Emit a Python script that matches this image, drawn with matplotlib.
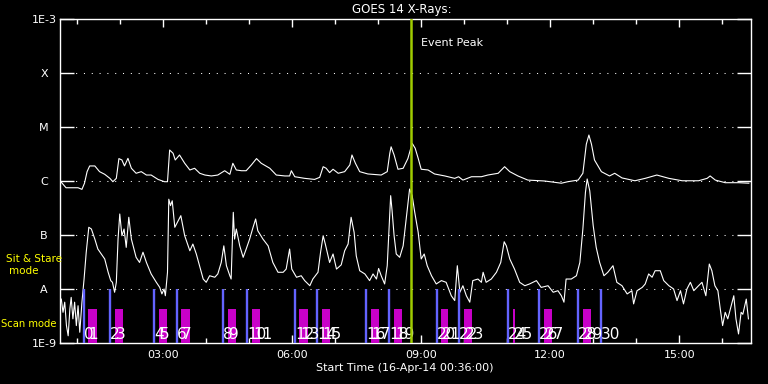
import matplotlib
matplotlib.use('Agg')
import matplotlib.pyplot as plt
from matplotlib.ticker import FixedLocator, NullLocator

# GOES 14 X-ray flux, 16-Apr-14; time in hours UT
long_t = [0.62, 0.74, 0.90, 1.02, 1.11, 1.17, 1.23, 1.29, 1.41, 1.52,
          1.64, 1.76, 1.83, 1.91, 1.97, 2.04, 2.10, 2.18, 2.26, 2.37,
          2.49, 2.61, 2.72, 2.88, 3.03, 3.10, 3.15, 3.23, 3.28, 3.38,
          3.50, 3.62, 3.73, 3.85, 3.97, 4.12, 4.27, 4.43, 4.55, 4.62,
          4.70, 4.82, 4.93, 5.05, 5.17, 5.28, 5.48, 5.63, 5.83, 5.94,
          5.98, 6.06, 6.29, 6.52, 6.64, 6.72, 6.79, 6.87, 6.95, 7.07,
          7.22, 7.34, 7.39, 7.47, 7.57, 7.76, 8.07, 8.21, 8.27, 8.30,
          8.37, 8.46, 8.58, 8.69, 8.79, 8.86, 8.93, 9.00, 9.16, 9.31,
          9.55, 9.78, 9.87, 9.97, 10.17, 10.40, 10.55, 10.79, 10.94, 11.06,
          11.25, 11.48, 11.87, 12.26, 12.41, 12.65, 12.76, 12.84, 12.90, 12.96,
          13.03, 13.19, 13.38, 13.50, 13.67, 13.97, 14.21, 14.48, 14.76, 15.07,
          15.45, 15.65, 15.72, 15.84, 16.07, 16.38, 16.62]
long_flux = [9.7e-7, 7.5e-7, 7.5e-7, 7.5e-7, 7.0e-7, 9.1e-7, 1.49e-6, 1.9e-6, 1.9e-6, 1.49e-6,
             1.33e-6, 1.12e-6, 9.7e-7, 1.12e-6, 2.6e-6, 2.45e-6, 1.9e-6, 2.63e-6, 1.72e-6, 1.39e-6,
             1.49e-6, 1.29e-6, 1.29e-6, 1.07e-6, 9.7e-7, 9.7e-7, 3.75e-6, 3.26e-6, 2.45e-6, 3.03e-6,
             2.13e-6, 1.6e-6, 1.72e-6, 1.39e-6, 1.29e-6, 1.24e-6, 1.29e-6, 1.55e-6, 1.33e-6, 2.13e-6,
             1.6e-6, 1.55e-6, 1.55e-6, 1.98e-6, 2.6e-6, 2.13e-6, 1.72e-6, 1.29e-6, 1.24e-6, 1.24e-6,
             1.55e-6, 1.2e-6, 1.12e-6, 1.07e-6, 1.17e-6, 1.84e-6, 1.72e-6, 1.43e-6, 1.65e-6, 1.39e-6,
             1.49e-6, 1.98e-6, 3.03e-6, 2.13e-6, 1.49e-6, 1.35e-6, 1.29e-6, 1.49e-6, 3.26e-6, 4.3e-6,
             3.03e-6, 1.65e-6, 1.72e-6, 2.6e-6, 4.99e-6, 4.04e-6, 2.63e-6, 1.65e-6, 1.6e-6, 1.35e-6,
             1.24e-6, 1.12e-6, 1.2e-6, 1.04e-6, 1.2e-6, 1.2e-6, 1.29e-6, 1.39e-6, 1.84e-6, 1.49e-6,
             1.24e-6, 1.04e-6, 1.0e-6, 9.1e-7, 9.7e-7, 1.04e-6, 1.39e-6, 4.8e-6, 7.1e-6, 4.8e-6,
             2.45e-6, 1.49e-6, 1.24e-6, 1.39e-6, 1.14e-6, 1.01e-6, 1.12e-6, 1.29e-6, 1.12e-6, 1.01e-6,
             1.01e-6, 1.12e-6, 1.24e-6, 1.04e-6, 9.3e-7, 9.3e-7, 9.1e-7]

short_t = [0.63, 0.67, 0.71, 0.75, 0.79, 0.83, 0.86, 0.90, 0.94, 0.98,
           1.02, 1.06, 1.11, 1.16, 1.21, 1.27, 1.33, 1.41, 1.48, 1.56,
           1.64, 1.72, 1.78, 1.82, 1.87, 1.91, 1.95, 1.99, 2.04, 2.09,
           2.14, 2.20, 2.26, 2.37, 2.45, 2.53, 2.61, 2.72, 2.84, 2.92,
           2.97, 3.02, 3.05, 3.10, 3.13, 3.17, 3.21, 3.27, 3.33, 3.41,
           3.50, 3.62, 3.69, 3.77, 3.85, 3.93, 4.00, 4.08, 4.20, 4.27,
           4.35, 4.41, 4.47, 4.55, 4.58, 4.63, 4.66, 4.70, 4.78, 4.86,
           4.93, 5.01, 5.09, 5.15, 5.20, 5.32, 5.44, 5.55, 5.67, 5.79,
           5.86, 5.94, 5.99, 6.10, 6.21, 6.29, 6.41, 6.48, 6.60, 6.66,
           6.72, 6.77, 6.87, 6.95, 7.03, 7.14, 7.22, 7.30, 7.37, 7.44,
           7.49, 7.57, 7.69, 7.80, 7.88, 7.96, 8.01, 8.07, 8.15, 8.21,
           8.27, 8.29, 8.32, 8.37, 8.42, 8.50, 8.58, 8.65, 8.73, 8.79,
           8.85, 8.93, 9.00, 9.07, 9.14, 9.24, 9.35, 9.47, 9.58, 9.70,
           9.78, 9.84, 9.90, 9.97, 10.05, 10.13, 10.20, 10.32, 10.40, 10.44,
           10.51, 10.63, 10.75, 10.85, 10.93, 10.98, 11.06, 11.17, 11.29, 11.41,
           11.52, 11.68, 11.79, 11.95, 12.07, 12.18, 12.26, 12.32, 12.37, 12.49,
           12.61, 12.69, 12.76, 12.82, 12.86, 12.92, 13.00, 13.07, 13.15, 13.25,
           13.34, 13.46, 13.55, 13.67, 13.79, 13.90, 13.94, 14.02, 14.14, 14.21,
           14.29, 14.37, 14.44, 14.56, 14.64, 14.76, 14.87, 14.95, 15.03, 15.10,
           15.18, 15.26, 15.34, 15.45, 15.53, 15.62, 15.70, 15.76, 15.83, 15.90,
           15.96, 16.01, 16.07, 16.13, 16.19, 16.27, 16.32, 16.38, 16.44, 16.48,
           16.56, 16.61]
short_flux = [6.5e-9, 3.7e-9, 5.7e-9, 2.1e-9, 1.36e-9, 4.3e-9, 7.0e-9, 2.8e-9, 5.7e-9, 2.1e-9,
              4.9e-9, 1.58e-9, 5.7e-9, 1.53e-8, 4.8e-8, 1.39e-7, 1.29e-7, 8.4e-8, 5.5e-8, 4.45e-8,
              3.6e-8, 2.04e-8, 1.43e-8, 1.33e-8, 8.7e-9, 1.33e-8, 8.4e-8, 2.45e-7, 9.7e-8, 1.29e-7,
              5.9e-8, 2.13e-7, 8.4e-8, 3.86e-8, 3.1e-8, 4.8e-8, 3.1e-8, 1.9e-8, 1.33e-8, 1.07e-8,
              8.1e-9, 1.0e-8, 7.5e-9, 2.04e-8, 4.6e-7, 3.5e-7, 4.3e-7, 1.39e-7, 1.72e-7, 2.28e-7,
              9.7e-8, 5.1e-8, 6.8e-8, 4.45e-8, 2.6e-8, 1.53e-8, 1.33e-8, 1.76e-8, 1.65e-8, 1.9e-8,
              3.1e-8, 6.3e-8, 2.7e-8, 1.76e-8, 1.53e-8, 2.63e-7, 8.4e-8, 1.29e-7, 6.3e-8, 3.86e-8,
              5.5e-8, 8.4e-8, 1.39e-7, 1.98e-7, 1.2e-7, 8.4e-8, 6.3e-8, 3.1e-8, 2.04e-8, 2.04e-8,
              2.34e-8, 5.5e-8, 2.34e-8, 1.65e-8, 1.76e-8, 1.43e-8, 1.15e-8, 1.53e-8, 2.04e-8, 4.8e-8,
              9.7e-8, 6.8e-8, 3.1e-8, 4.45e-8, 2.34e-8, 2.8e-8, 5.1e-8, 6.8e-8, 2.13e-7, 1.12e-7,
              4.1e-8, 2.18e-8, 1.9e-8, 1.43e-8, 1.9e-8, 1.53e-8, 2.4e-8, 1.76e-8, 1.24e-8, 2.7e-8,
              2.63e-7, 5.35e-7, 3.0e-7, 9.7e-8, 4.45e-8, 3.86e-8, 6.3e-8, 1.98e-7, 7.1e-7, 5.35e-7,
              2.63e-7, 1.12e-7, 3.6e-8, 4.45e-8, 2.7e-8, 1.76e-8, 1.24e-8, 1.43e-8, 1.33e-8, 7.5e-9,
              6.1e-9, 2.7e-8, 8.7e-9, 1.15e-8, 7.5e-9, 5.7e-9, 1.43e-8, 1.53e-8, 1.33e-8, 2.04e-8,
              1.33e-8, 1.53e-8, 2.04e-8, 3.1e-8, 7.5e-8, 6.3e-8, 3.6e-8, 2.34e-8, 1.33e-8, 1.15e-8,
              1.24e-8, 1.43e-8, 1.07e-8, 1.15e-8, 8.7e-9, 9.3e-9, 7.5e-9, 5.7e-9, 1.53e-8, 1.53e-8,
              1.76e-8, 3.1e-8, 1.29e-7, 6.2e-7, 1.09e-6, 6.6e-7, 1.49e-7, 5.9e-8, 3.1e-8, 1.76e-8,
              2.04e-8, 2.7e-8, 1.33e-8, 1.15e-8, 8.1e-9, 9.3e-9, 5.3e-9, 9.3e-9, 1.07e-8, 1.24e-8,
              1.9e-8, 1.65e-8, 2.18e-8, 2.18e-8, 1.43e-8, 1.15e-8, 1.0e-8, 6.1e-9, 9.3e-9, 5.3e-9,
              1.0e-8, 1.33e-8, 9.3e-9, 1.15e-8, 1.33e-8, 7.5e-9, 2.9e-8, 2.18e-8, 1.15e-8, 9.3e-9,
              4.0e-9, 2.1e-9, 3.7e-9, 2.8e-9, 4.3e-9, 7.5e-9, 2.8e-9, 1.47e-9, 3.7e-9, 3.4e-9,
              6.5e-9, 2.8e-9]

# raster windows: scan start (blue), sit & stare interval (magenta)
scan_start = [1.16, 1.76, 2.79, 3.32, 4.39, 4.95, 6.07, 6.58, 7.72, 8.25,
              9.37, 9.88, 11.02, 11.74, 12.65, 13.18]
stare_start = [1.25, 1.88, 2.90, 3.41, 4.51, 5.07, 6.16, 6.69, 7.83, 8.37,
               9.46, 10.00, 11.14, 11.86, 12.76]
stare_end = [1.46, 2.07, 3.09, 3.62, 4.69, 5.25, 6.37, 6.88, 8.02, 8.55,
             9.62, 10.18, 11.18, 12.04, 12.95]
scan_labels = ['0', '2', '4', '6', '8', '10', '12', '14', '16', '18',
               '20', '22', '24', '26', '28', '30']
stare_labels = ['1', '3', '5', '7', '9', '11', '13', '15', '17', '19',
                '21', '23', '25', '27', '29']

event_peak = 8.76

class_levels = [1e-9, 1e-8, 1e-7, 1e-6, 1e-5, 1e-4, 1e-3]
class_names = ['1E-9', 'A', 'B', 'C', 'M', 'X', '1E-3']
hour_ticks = [3, 6, 9, 12, 15]
hour_labels = ['03:00', '06:00', '09:00', '12:00', '15:00']
minor_hours = [1, 2, 4, 5, 7, 8, 10, 11, 13, 14, 16]

t_start, t_end = 0.6, 16.67

plt.rcParams['font.family'] = ['DejaVu Sans']
fig = plt.figure(figsize=(7.68, 3.84), dpi=100, facecolor='black')
ax = fig.add_axes([60/768, 41/384, 691/768, 324/384], facecolor='black')

ax.set_yscale('log')
ax.set_ylim(1e-9, 1e-3)
ax.set_xlim(t_start, t_end)

# class grid
for lv in class_levels[1:-1]:
    ax.axhline(lv, color='white', lw=0.75, ls=(0, (1, 6.5)), zorder=1)

ax.plot(long_t, long_flux, color='white', lw=0.8, zorder=2)
ax.plot(short_t, short_flux, color='white', lw=0.8, zorder=2)

ax.vlines(scan_start, 1e-9, 1e-8, color='#6464ff', lw=1.7, zorder=3)
widths = [e - s for s, e in zip(stare_start, stare_end)]
ax.bar(stare_start, 4.3e-9 - 1e-9, width=widths, bottom=1e-9, align='edge',
       color='#c800c8', zorder=3)

narrow = ['Liberation Sans Narrow', 'DejaVu Sans']
trans = ax.get_xaxis_transform()
for t, s in zip(scan_start, scan_labels):
    ax.text(t, 0.025, s, transform=trans, color='white', fontsize=11,
            family=narrow, ha='left', va='center', zorder=4)
for t, s in zip(stare_start, stare_labels):
    ax.text(t + 0.02, 0.025, s, transform=trans, color='white', fontsize=11,
            family=narrow, ha='left', va='center', zorder=4)

ax.axvline(event_peak, color='#a0cc00', lw=1.8, zorder=5)
ax.annotate('Event Peak', xy=(event_peak, 0.926), xycoords=trans, xytext=(7, 0),
            textcoords='offset points', color='white', fontsize=8, va='center')

# axes styling
for sp in ax.spines.values():
    sp.set_color('white')
    sp.set_linewidth(1)

ax.yaxis.set_major_locator(FixedLocator(class_levels))
ax.yaxis.set_minor_locator(NullLocator())
ax.set_yticklabels(class_names)
ax.tick_params(axis='y', which='major', direction='in', length=10, width=1,
               color='white', labelcolor='white', labelsize=8, right=True, pad=11.5)
for lab in ax.get_yticklabels():
    lab.set_horizontalalignment('center')

ax.set_xticks(hour_ticks)
ax.set_xticklabels(hour_labels)
ax.set_xticks(minor_hours, minor=True)
ax.tick_params(axis='x', which='major', direction='in', length=6, width=1,
               color='white', labelcolor='white', labelsize=8, top=True, pad=5)
ax.tick_params(axis='x', which='minor', direction='in', length=3.5, width=1,
               color='white', top=True)

fig.text(402/768, 1 - 10/384, 'GOES 14 X-Rays:', color='white', fontsize=8.5,
         ha='center', va='center')
fig.text(405/768, 1 - 368/384, 'Start Time (16-Apr-14 00:36:00)', color='white',
         fontsize=8, ha='center', va='center')
fig.text(34/768, 1 - 259/384, 'Sit & Stare', color='#ffff00', fontsize=7.5,
         ha='center', va='center')
fig.text(24/768, 1 - 271/384, 'mode', color='#ffff00', fontsize=7.5,
         ha='center', va='center')
fig.text(29/768, 1 - 324/384, 'Scan mode', color='#ffff00', fontsize=7.2,
         ha='center', va='center')

fig.savefig('out.png', dpi=100, facecolor='black')
